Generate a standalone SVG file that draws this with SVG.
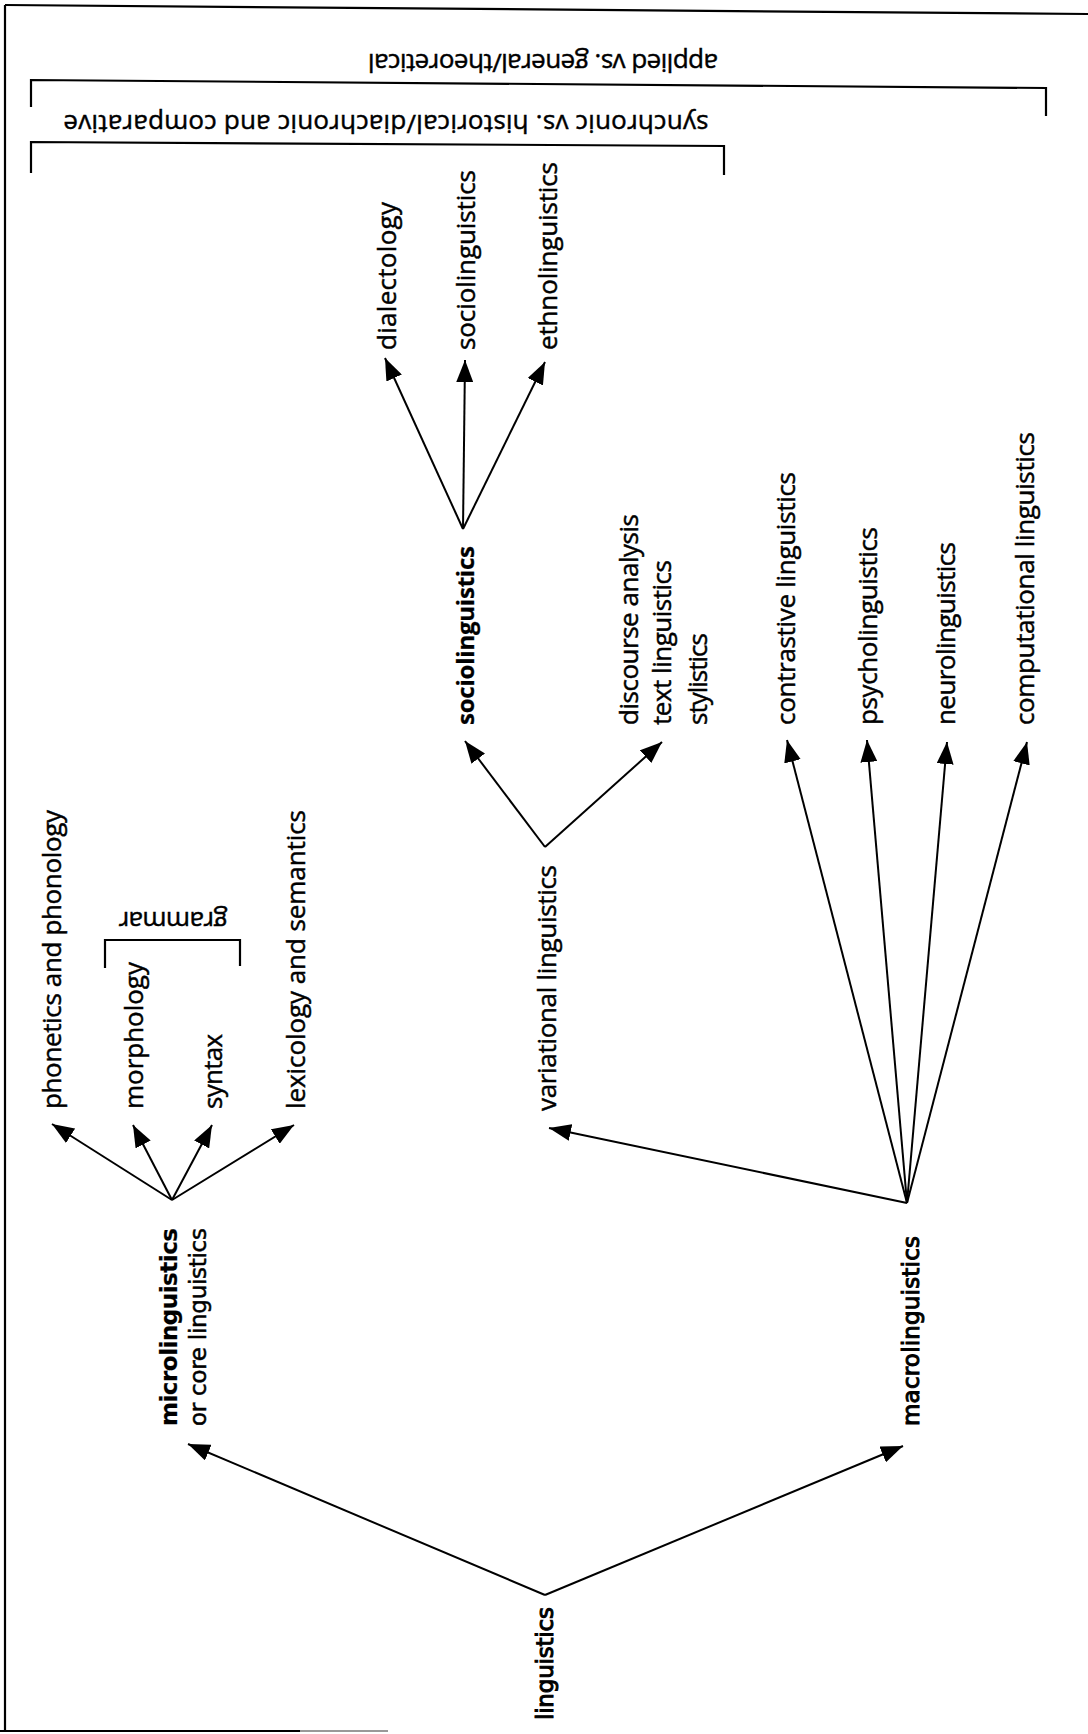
<svg xmlns="http://www.w3.org/2000/svg" width="1088" height="1734" viewBox="0 0 1088 1734">
<style>
.t{font-family:"Open Sans","Liberation Sans",sans-serif;font-size:26px;fill:#000;stroke:#000;stroke-width:0.45}
.b{font-weight:700;font-size:24px;stroke-width:0.3}
.d{font-family:"DejaVu Sans","Liberation Sans",sans-serif;font-size:23px;fill:#000;stroke:#000;stroke-width:0.5}
.db{font-weight:700;stroke-width:0.2}
.dm{stroke-width:1}
.ln{fill:none;stroke:#000;stroke-width:2}
.fr{fill:none;stroke:#000;stroke-width:2.2}
</style>
<defs>
<marker id="ah" viewBox="0 0 22 17" refX="22" refY="8.5" markerWidth="22" markerHeight="17" markerUnits="userSpaceOnUse" orient="auto">
<path d="M0,0 L22,8.5 L0,17 Z" fill="#000"/>
</marker>
</defs>
<rect width="1088" height="1734" fill="#fff"/>

<g id="frame">
<path class="fr" d="M5,5 L1088,14"/>
<path class="fr" d="M5,5 L5,1731"/>
<path class="fr" d="M0,1731 L300,1731"/>
<path d="M300,1731 L388,1731" stroke="#999" stroke-width="2"/>
</g>

<g id="bracket-applied">
<path class="fr" d="M31,107 L31,80 L1046,88 L1046,116"/>
<text class="t" text-anchor="middle" textLength="350" transform="translate(543,54) rotate(180)">applied vs. general/theoretical</text>
</g>
<g id="bracket-synchronic">
<path class="fr" d="M31,173 L31,142 L724,146 L724,175"/>
<text class="t" text-anchor="middle" textLength="645" transform="translate(386,115) rotate(180)">synchronic vs. historical/diachronic and comparative</text>
</g>

<g id="connectors">
<path class="ln" d="M463,529 L385,358" marker-end="url(#ah)"/>
<path class="ln" d="M463,529 L465,360" marker-end="url(#ah)"/>
<path class="ln" d="M463,529 L545,362" marker-end="url(#ah)"/>
<path class="ln" d="M545,847 L465,741" marker-end="url(#ah)"/>
<path class="ln" d="M545,847 L662,742" marker-end="url(#ah)"/>
<path class="ln" d="M907,1203 L549,1128" marker-end="url(#ah)"/>
<path class="ln" d="M907,1203 L787,740" marker-end="url(#ah)"/>
<path class="ln" d="M907,1203 L867,740" marker-end="url(#ah)"/>
<path class="ln" d="M907,1203 L947,742" marker-end="url(#ah)"/>
<path class="ln" d="M907,1203 L1027,742" marker-end="url(#ah)"/>
<path class="ln" d="M172,1200 L52,1124" marker-end="url(#ah)"/>
<path class="ln" d="M172,1200 L133,1125" marker-end="url(#ah)"/>
<path class="ln" d="M172,1200 L212,1125" marker-end="url(#ah)"/>
<path class="ln" d="M172,1200 L294,1125" marker-end="url(#ah)"/>
<path class="ln" d="M545,1595 L188,1444" marker-end="url(#ah)"/>
<path class="ln" d="M545,1595 L903,1446" marker-end="url(#ah)"/>
</g>

<g id="dialectology"><text class="t" textLength="148" transform="translate(396,350) rotate(-90)">dialectology</text></g>
<g id="sociolinguistics-top"><text class="t" textLength="180" transform="translate(475,350) rotate(-90)">sociolinguistics</text></g>
<g id="ethnolinguistics"><text class="t" textLength="188" transform="translate(557,350) rotate(-90)">ethnolinguistics</text></g>

<g id="sociolinguistics"><text class="t b" textLength="179" transform="translate(474,725) rotate(-90)">sociolinguistics</text></g>
<g id="discourse"><text class="t" textLength="211" transform="translate(638,725) rotate(-90)">discourse analysis</text>
<text class="t" textLength="165" transform="translate(671,725) rotate(-90)">text linguistics</text>
<text class="t" textLength="92" transform="translate(707,725) rotate(-90)">stylistics</text></g>
<g id="contrastive"><text class="t" textLength="253" transform="translate(795,725) rotate(-90)">contrastive linguistics</text></g>
<g id="psycholinguistics"><text class="t" textLength="198" transform="translate(877,725) rotate(-90)">psycholinguistics</text></g>
<g id="neurolinguistics"><text class="t" textLength="183" transform="translate(955,725) rotate(-90)">neurolinguistics</text></g>
<g id="computational"><text class="t" textLength="293" transform="translate(1034,725) rotate(-90)">computational linguistics</text></g>

<g id="variational"><text class="t" textLength="246" transform="translate(556,1111) rotate(-90)">variational linguistics</text></g>

<g id="phonetics"><text class="t" textLength="299" transform="translate(61,1109) rotate(-90)">phonetics and phonology</text></g>
<g id="morphology"><text class="t" textLength="147" transform="translate(143,1109) rotate(-90)">morphology</text></g>
<g id="syntax"><text class="t" textLength="75" transform="translate(222,1109) rotate(-90)">syntax</text></g>
<g id="lexicology"><text class="t" textLength="299" transform="translate(305,1109) rotate(-90)">lexicology and semantics</text></g>
<g id="grammar">
<path class="fr" d="M105,968 L105,940 L240,940 L240,966"/>
<text class="t" text-anchor="middle" textLength="109" transform="translate(173,912) rotate(180)">grammar</text>
</g>

<g id="microlinguistics">
<text class="d db" textLength="198" transform="translate(177,1426) rotate(-90)">microlinguistics</text>
<text class="d" textLength="198" transform="translate(206,1426) rotate(-90)">or core linguistics</text>
</g>
<g id="macrolinguistics"><text class="d dm" textLength="190" transform="translate(919,1426) rotate(-90)">macrolinguistics</text></g>
<g id="linguistics"><text class="d dm" textLength="113" transform="translate(553,1720) rotate(-90)">linguistics</text></g>
</svg>
